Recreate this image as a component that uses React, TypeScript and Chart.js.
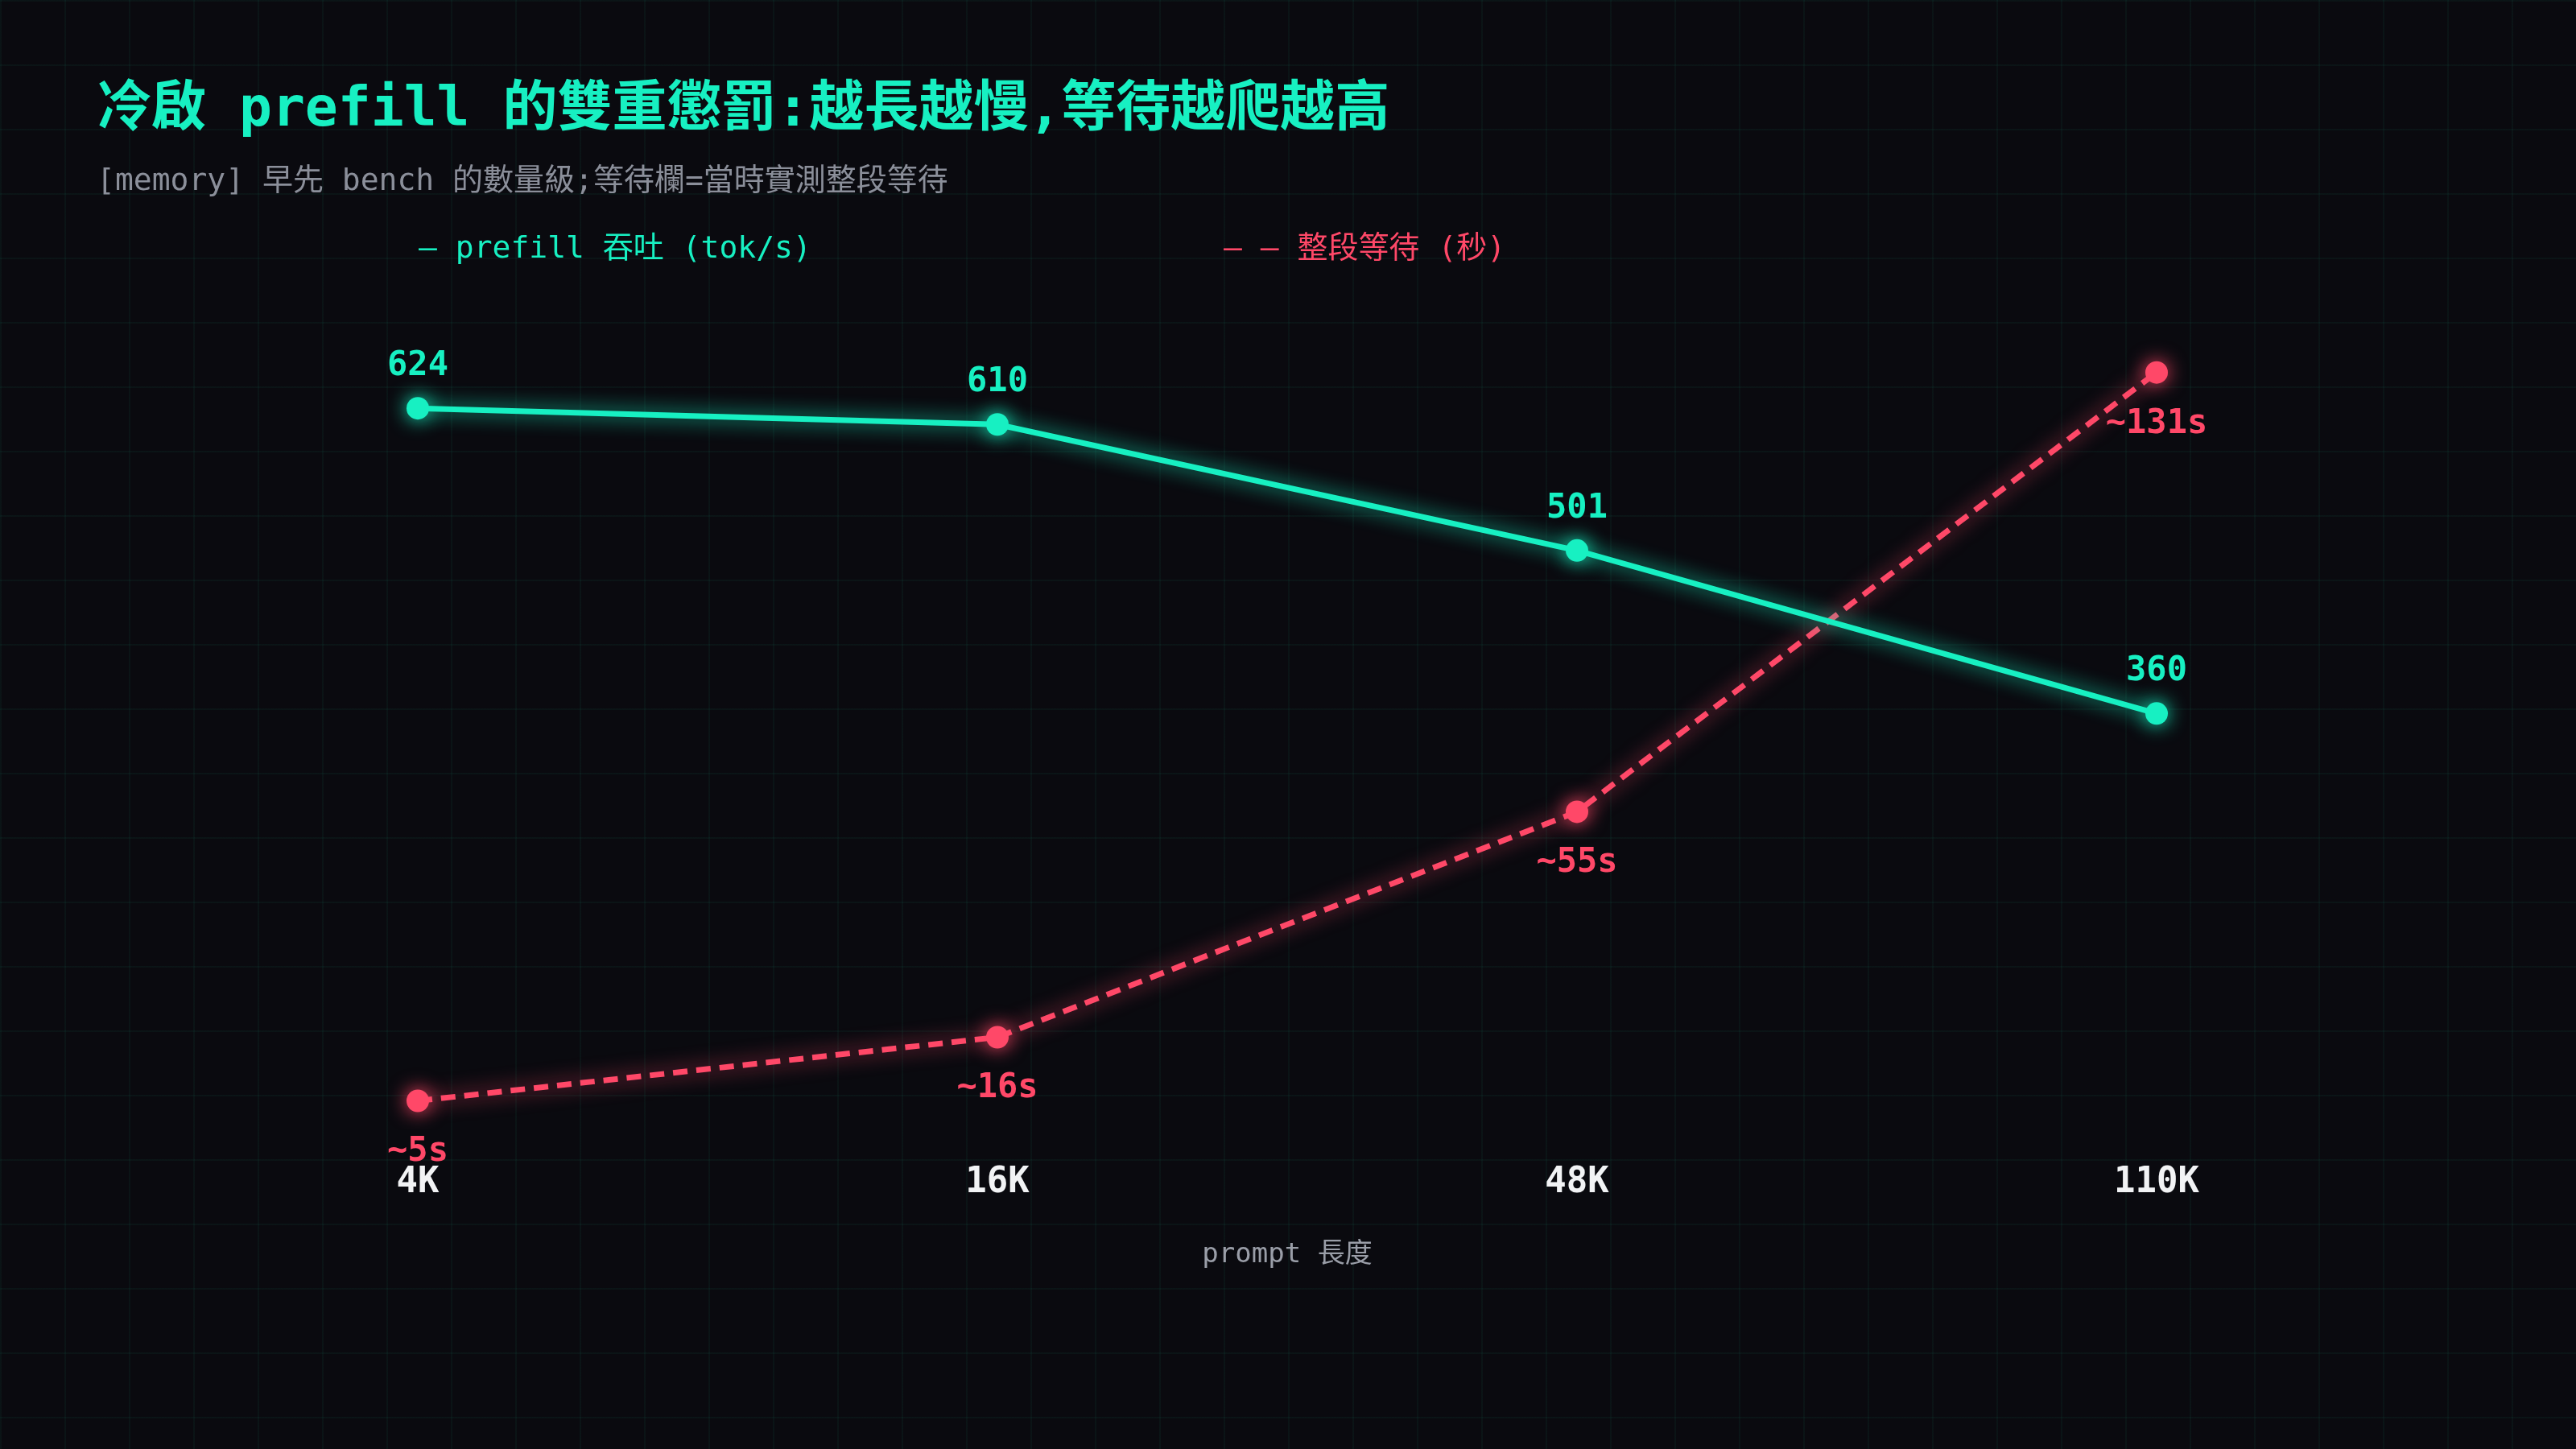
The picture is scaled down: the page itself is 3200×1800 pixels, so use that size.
import { useEffect, useRef } from 'react';
import { Chart, registerables } from 'chart.js';
import type { Plugin } from 'chart.js';

Chart.register(...registerables);

// data
const promptLengths = ['4K', '16K', '48K', '110K'];
const prefillTokPerSec = [624, 610, 501, 360];
const waitSeconds = [5, 16, 55, 131];
const waitLabels = ['~5s', '~16s', '~55s', '~131s'];

const TEAL = '#17f0c2';
const RED = '#ff4868';
const BG = '#0a0a0f';
const MONO = '"DejaVu Sans Mono", "Noto Sans CJK TC", monospace';

// soft glow behind each line
const glowPlugin: Plugin<'line'> = {
  id: 'glow',
  beforeDatasetDraw(chart, args) {
    const ctx = chart.ctx;
    const ds = chart.data.datasets[args.index];
    ctx.save();
    ctx.shadowColor = ds.borderColor as string;
    ctx.shadowBlur = 24;
  },
  afterDatasetDraw(chart) {
    chart.ctx.restore();
  },
};

// value labels: throughput above the point, wait time below
const valueLabelPlugin: Plugin<'line'> = {
  id: 'valueLabels',
  afterDatasetsDraw(chart) {
    const ctx = chart.ctx;
    ctx.save();
    ctx.font = `bold 42px ${MONO}`;
    ctx.textAlign = 'center';
    ctx.textBaseline = 'middle';

    const tput = chart.getDatasetMeta(0);
    ctx.fillStyle = TEAL;
    tput.data.forEach((pt, i) => {
      ctx.fillText(String(prefillTokPerSec[i]), pt.x, pt.y - 52);
    });

    const wait = chart.getDatasetMeta(1);
    ctx.fillStyle = RED;
    wait.data.forEach((pt, i) => {
      ctx.fillText(waitLabels[i], pt.x, pt.y + 64);
    });
    ctx.restore();
  },
};

function PrefillChart() {
  const chartRef = useRef<HTMLCanvasElement>(null);
  const chartInstance = useRef<Chart | null>(null);

  useEffect(() => {
    if (!chartRef.current) return;
    if (chartInstance.current) chartInstance.current.destroy();

    const ctx = chartRef.current.getContext('2d');
    if (!ctx) return;

    chartInstance.current = new Chart(ctx, {
      type: 'line',
      data: {
        labels: promptLengths,
        datasets: [
          {
            label: 'prefill 吞吐 (tok/s)',
            data: prefillTokPerSec,
            yAxisID: 'y',
            borderColor: TEAL,
            backgroundColor: TEAL,
            borderWidth: 7,
            pointRadius: 14,
            pointBorderWidth: 0,
            pointBackgroundColor: TEAL,
            tension: 0,
          },
          {
            label: '整段等待 (秒)',
            data: waitSeconds,
            yAxisID: 'y1',
            borderColor: RED,
            backgroundColor: RED,
            borderWidth: 7,
            borderDash: [18, 11],
            pointRadius: 14,
            pointBorderWidth: 0,
            pointBackgroundColor: RED,
            tension: 0,
          },
        ],
      },
      options: {
        animation: false,
        responsive: true,
        maintainAspectRatio: false,
        layout: {
          padding: { left: 159, right: 161, top: 398, bottom: 220 },
        },
        scales: {
          x: {
            offset: true,
            grid: { display: false, drawTicks: false },
            border: { display: false },
            ticks: {
              color: '#f2f3f5',
              padding: 40,
              font: { family: MONO, size: 44, weight: 'bold' },
            },
            title: {
              display: true,
              text: 'prompt 長度',
              color: '#9a9ea8',
              padding: { top: 3, bottom: 0 },
              font: { family: MONO, size: 34 },
            },
          },
          y: { display: false, min: 0, max: 700 },
          y1: { display: false, min: 0, max: 140 },
        },
        plugins: {
          legend: { display: false },
          tooltip: { enabled: false },
        },
      },
      plugins: [glowPlugin, valueLabelPlugin],
    });

    return () => {
      if (chartInstance.current) {
        chartInstance.current.destroy();
        chartInstance.current = null;
      }
    };
  }, []);

  return <canvas ref={chartRef} />;
}

export default function App() {
  const text = { position: 'absolute' as const, lineHeight: 1, whiteSpace: 'pre' as const, fontFamily: MONO };

  return (
    <div
      style={{
        position: 'fixed',
        inset: 0,
        backgroundColor: BG,
        backgroundImage:
          'linear-gradient(rgba(20,240,192,0.045) 2px, transparent 2px), linear-gradient(90deg, rgba(20,240,192,0.045) 2px, transparent 2px)',
        backgroundSize: '80px 80px',
        overflow: 'hidden',
      }}
    >
      <div style={{ position: 'absolute', inset: 0 }}>
        <PrefillChart />
      </div>
      <div style={{ ...text, left: 120, top: 99, fontSize: 68, fontWeight: 'bold', color: TEAL }}>
        冷啟 prefill 的雙重懲罰:越長越慢,等待越爬越高
      </div>
      <div style={{ ...text, left: 120, top: 204, fontSize: 38, color: '#8b8f9a' }}>
        [memory] 早先 bench 的數量級;等待欄=當時實測整段等待
      </div>
      <div style={{ ...text, left: 520, top: 288, fontSize: 38, color: TEAL }}>
        — prefill 吞吐 (tok/s)
      </div>
      <div style={{ ...text, left: 1520, top: 288, fontSize: 38, color: RED }}>
        — — 整段等待 (秒)
      </div>
    </div>
  );
}
